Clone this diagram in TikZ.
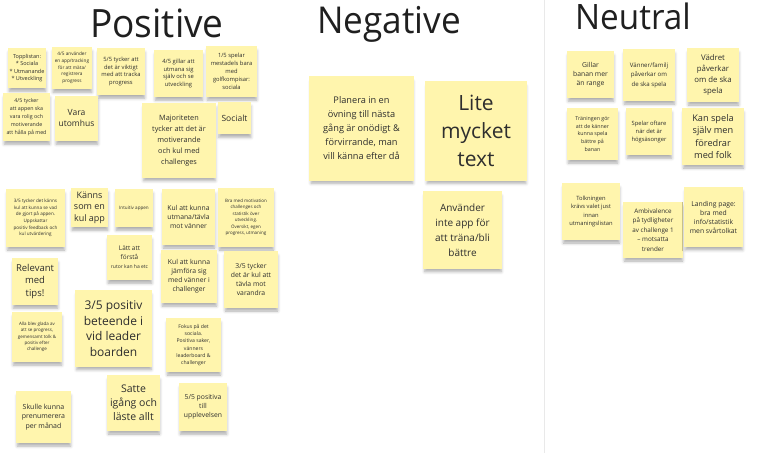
\documentclass[tikz,border=0pt]{standalone}
\usepackage{fontspec}
\setmainfont{Open Sans}
\newfontfamily\headfont[FakeStretch=0.95]{Open Sans}
\usetikzlibrary{shadows.blur}

\definecolor{notefill}{HTML}{FFF5AD}
\definecolor{notetext}{HTML}{2E2E2E}
\definecolor{sepgray}{HTML}{E9E9E9}
\newcommand{\notesize}[2]{\fontsize{#1}{#2}\selectfont}

\tikzset{
	sticky/.style={fill=notefill, inner sep=0pt, align=center, text=notetext, blur shadow={shadow xshift=0.5pt, shadow yshift=-4pt, shadow blur radius=3pt, shadow opacity=32, shadow scale=0.97}},
	heading/.style={anchor=base, text=black!88, font=\headfont\fontsize{#1}{#1}\selectfont},
	sepline/.style={draw=sepgray, line width=1pt}
}

\begin{document}
\begin{tikzpicture}[x=1pt, y=-1pt]
	\useasboundingbox (0,0) rectangle (765,453);
	\coordinate (septop) at (544,0);
	\coordinate (sepbot) at (544,453);
	\draw[sepline] (septop) -- (sepbot);
	\node[heading=39] (positive) at (157,37){Positive};
	\node[heading=37] (negative) at (389,33){Negative};
	\node[heading=35] (neutral) at (633,29){Neutral};

	\node[sticky, minimum width=38pt, minimum height=40pt, font=\notesize{5.5}{7.5}] (topplista) at (27,68){Topplistan:\\{*} Sociala\\{*} Utmanande\\{*} Utveckling};
	\node[sticky, minimum width=40pt, minimum height=42pt, font=\notesize{4.7}{6.7}] (appmatning) at (72,68){4/5 använder\\en app/tracking\\för att mäta/\\registrera\\progress};
	\node[sticky, minimum width=48pt, minimum height=47pt, font=\notesize{5.8}{7.7}] (trackprogress) at (121,71.5){5/5 tycker att\\det är viktigt\\med att tracka\\progress};
	\node[sticky, minimum width=49pt, minimum height=47pt, font=\notesize{5.8}{7.7}] (utmanasig) at (178.5,73.5){4/5 gillar att\\utmana sig\\själv och se\\utveckling};
	\node[sticky, minimum width=51pt, minimum height=51pt, font=\notesize{5.8}{8}] (golfkompisar) at (231.5,71.5){1/5 spelar\\mestadels bara\\med\\golfkompisar:\\sociala};
	\node[sticky, minimum width=47pt, minimum height=48pt, font=\notesize{5.3}{8}] (rolig) at (26.5,117){4/5 tycker\\att appen ska\\vara rolig och\\motiverande\\att hålla på med};
	\node[sticky, minimum width=43pt, minimum height=45pt, font=\notesize{8.5}{11}] (utomhus) at (76.5,118.5){Vara\\utomhus};
	\node[sticky, minimum width=74pt, minimum height=75pt, font=\notesize{7.3}{11}] (majoriteten) at (179,140.5){Majoriteten\\tycker att det är\\motiverande\\och kul med\\challenges};
	\node[sticky, minimum width=33pt, minimum height=32pt, font=\notesize{8.5}{11}] (socialt) at (234.5,118){Socialt};

	\node[sticky, minimum width=59pt, minimum height=58pt, font=\notesize{4.6}{6.7}] (feedback) at (35.5,218){3/5 tycker det känns\\kul att kunna se vad\\de gjort på appen.\\Uppskattar\\positiv feedback och\\kul utvärdering};
	\node[sticky, minimum width=37pt, minimum height=39pt, font=\notesize{9}{11.5}] (kulapp) at (89.5,207.5){Känns\\som en\\kul app};
	\node[sticky, minimum width=38pt, minimum height=38pt, font=\notesize{4.6}{6}] (intuitiv) at (134,208){Intuitiv appen};
	\node[sticky, minimum width=45pt, minimum height=45pt, font=\notesize{6.4}{9}] (lattforsta) at (129.5,257.5){Lätt att\\förstå\\{\notesize{5}{7}rutor kan ha etc}};
	\node[sticky, minimum width=53pt, minimum height=56pt, font=\notesize{6.8}{9}] (tavlavanner) at (188.5,217){Kul att kunna\\utmana/tävla\\mot vänner};
	\node[sticky, minimum width=56pt, minimum height=59pt, font=\notesize{4.5}{6.5}] (statistik) at (246,217.5){Bra med motivation\\challenges och\\statistik över\\utveckling.\\Översikt, egen\\progress, utmaning};
	\node[sticky, minimum width=56pt, minimum height=53pt, font=\notesize{6.8}{9}] (jamfora) at (189,276.5){Kul att kunna\\jämföra sig\\med vänner i\\challenger};
	\node[sticky, minimum width=54pt, minimum height=57pt, font=\notesize{6.8}{9}] (varandra) at (251,279.5){3/5 tycker\\det är kul att\\tävla mot\\varandra};
	\node[sticky, minimum width=46pt, minimum height=47pt, font=\notesize{9.5}{12.5}] (tips) at (35,281.5){Relevant\\med\\tips!};
	\node[sticky, minimum width=77pt, minimum height=77pt, font=\notesize{12}{15.5}] (leaderboard) at (113.5,328.5){3/5 positiv\\beteende i\\vid leader\\boarden};
	\node[sticky, minimum width=50pt, minimum height=50pt, font=\notesize{4.5}{6.2}] (glada) at (37,337){Alla blev glada av\\att se progress,\\gemensamt tolk \&\\positiv efter\\challenge};
	\node[sticky, minimum width=55pt, minimum height=54pt, font=\notesize{5.1}{7.3}] (sociala) at (193.5,345){Fokus på det\\sociala.\\Positiva saker,\\vänners\\leaderboard \&\\challenger};
	\node[sticky, minimum width=55pt, minimum height=52pt, font=\notesize{7}{9.5}] (prenumerera) at (43.5,417){Skulle kunna\\prenumerera\\per månad};
	\node[sticky, minimum width=53pt, minimum height=56pt, font=\notesize{10.5}{14}] (lasteallt) at (133.5,403){Satte\\igång och\\läste allt};
	\node[sticky, minimum width=48pt, minimum height=48pt, font=\notesize{6.8}{9}] (upplevelsen) at (203,407){5/5 positiva\\till\\upplevelsen};

	\node[sticky, minimum width=105pt, minimum height=105pt, font=\notesize{9.2}{14}] (planera) at (361.5,128.5){Planera in en\\övning till nästa\\gång är onödigt \&\\förvirrande, man\\vill känna efter då};
	\node[sticky, minimum width=102pt, minimum height=100pt, font=\notesize{21}{28}] (mycket) at (476,131){Lite\\mycket\\text};
	\node[sticky, minimum width=79pt, minimum height=78pt, font=\notesize{10}{15}] (traena) at (462.5,230){Använder\\inte app för\\att träna/bli\\bättre};

	\node[sticky, minimum width=47pt, minimum height=47pt, font=\notesize{6.8}{9}] (banan) at (590.5,74.5){Gillar\\banan mer\\än range};
	\node[sticky, minimum width=52pt, minimum height=52pt, font=\notesize{6.1}{9.5}] (familj) at (649,75){Vänner/familj\\påverkar om\\de ska spela};
	\node[sticky, minimum width=52pt, minimum height=54pt, font=\notesize{7.8}{11}] (vadret) at (713,75){Vädret\\påverkar\\om de ska\\spela};
	\node[sticky, minimum width=51pt, minimum height=52pt, font=\notesize{5.3}{7.8}] (traningen) at (592.5,134){Träningen gör\\att de känner\\kunna spela\\bättre på\\banan};
	\node[sticky, minimum width=46pt, minimum height=47pt, font=\notesize{5.8}{8}] (hogsasong) at (649,131.5){Spelar oftare\\när det är\\högsäsonger};
	\node[sticky, minimum width=62pt, minimum height=57pt, font=\notesize{9.2}{12.5}] (medfolk) at (713,136.5){Kan spela\\själv men\\föredrar\\med folk};
	\node[sticky, minimum width=58pt, minimum height=57pt, font=\notesize{5.8}{8.5}] (tolkningen) at (591,211.5){Tolkningen\\krävs valet just\\innan\\utmaningslistan};
	\node[sticky, minimum width=60pt, minimum height=56pt, font=\notesize{6.3}{9.5}] (ambivalence) at (653,230){Ambivalence\\på tydligheter\\av challenge 1\\-- motsatta\\trender};
	\node[sticky, minimum width=59pt, minimum height=60pt, font=\notesize{6.8}{9}] (landing) at (713.5,217){Landing page:\\bra med\\info/statistik\\men svårtolkat};
\end{tikzpicture}
\end{document}
